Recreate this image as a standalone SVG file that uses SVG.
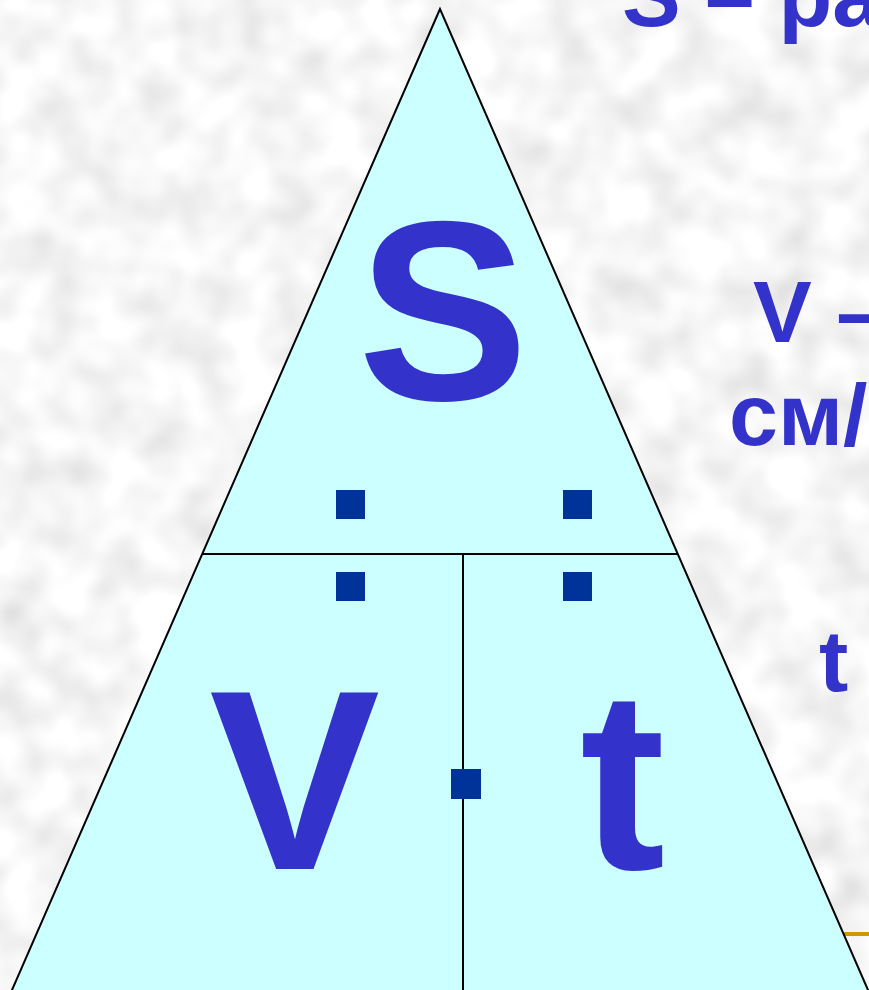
<svg xmlns="http://www.w3.org/2000/svg" width="869" height="990" viewBox="0 0 869 990">
<defs>
<filter id="tex" x="0" y="0" width="100%" height="100%" filterUnits="userSpaceOnUse">
<feTurbulence type="fractalNoise" baseFrequency="0.022" numOctaves="2" seed="7" result="n"/>
<feColorMatrix in="n" type="matrix" values="0.45 0 0 0 0.70  0.45 0 0 0 0.70  0.45 0 0 0 0.70  0 0 0 0 1"/>
</filter>
<style>
.big{font-family:"Liberation Sans",Arial,sans-serif;font-weight:bold;font-size:256px;fill:#3333CC}
.side{font-family:"Liberation Sans",Arial,sans-serif;font-weight:bold;font-size:88px;fill:#3333CC}
.dot{fill:#003399}
.edge{stroke:#000;stroke-width:2;fill:none}
</style>
</defs>
<rect id="background" x="0" y="0" width="869" height="990" fill="#ebebeb" filter="url(#tex)"/>
<line x1="800" y1="934" x2="869" y2="934" stroke="#CC9900" stroke-width="4"/>
<g id="triangle">
<polygon points="440,9 10.7,993 869.3,993" fill="#CCFFFF" stroke="#000" stroke-width="2"/>
</g>
<g id="connectors">
<line class="edge" x1="202" y1="554" x2="678" y2="554"/>
<line class="edge" x1="463" y1="554" x2="463" y2="990"/>
</g>
<g id="node-S">
<text class="big" x="443" y="400" text-anchor="middle">S</text>
</g>
<g id="node-V">
<text class="big" x="294.5" y="869" text-anchor="middle">V</text>
</g>
<g id="node-t">
<text class="big" x="622.5" y="869" text-anchor="middle">t</text>
</g>
<g id="dividers">
<rect class="dot" x="336" y="490" width="29" height="29"/>
<rect class="dot" x="563" y="490" width="29" height="29"/>
<rect class="dot" x="336" y="572" width="29" height="29"/>
<rect class="dot" x="563" y="572" width="29" height="29"/>
<rect class="dot" x="451" y="769" width="30" height="30"/>
</g>
<g id="legend">
<text class="side" x="622" y="26">S – ра</text>
<text class="side" x="753" y="342">V –</text>
<text class="side" x="729" y="445">см/</text>
<text class="side" x="819" y="691">t</text>
</g>
</svg>
